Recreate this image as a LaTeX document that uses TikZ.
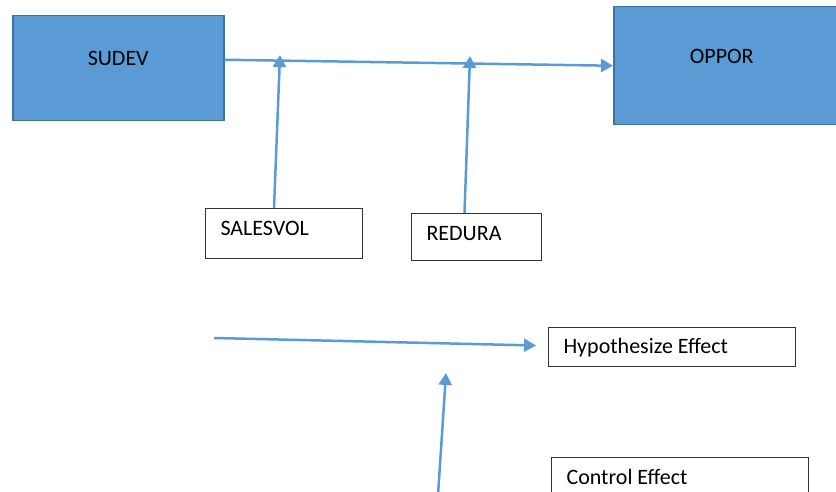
\documentclass[tikz,border=0pt]{standalone}
\usepackage{fontspec}
\setmainfont{Carlito}
\usetikzlibrary{arrows.meta}
\definecolor{boxblue}{HTML}{5B9BD5}
\definecolor{boxedge}{HTML}{41719C}
\begin{document}
\begin{tikzpicture}[x=1pt,y=-1pt,
    font=\fontsize{22}{26}\selectfont,
    bigbox/.style={draw=boxedge,fill=boxblue,line width=1.5pt,anchor=north west,inner sep=0pt},
    smallbox/.style={draw=black!80,line width=1pt,anchor=north west,inner sep=0pt},
    link/.style={draw=boxblue,line width=2.5pt,-{Triangle[length=12pt,width=13pt]}}]
    \useasboundingbox (0,0) rectangle (836,492);
    \node[bigbox,minimum width=211pt,minimum height=105pt,label={[yshift=10pt]center:SUDEV}] at (12,15) (sudev) {};
    \node[bigbox,minimum width=230pt,minimum height=118pt,label={[xshift=-7pt,yshift=9pt]center:OPPOR}] at (613,6) (oppor) {};
    \node[smallbox,minimum width=157pt,minimum height=50pt,label={[anchor=west,xshift=12pt,yshift=5pt]west:SALESVOL}] at (205,208) (salesvol) {};
    \node[smallbox,minimum width=130pt,minimum height=47pt,label={[anchor=west,xshift=12pt,yshift=3pt]west:REDURA}] at (411,213) (redura) {};
    \node[smallbox,minimum width=247pt,minimum height=39pt,label={[anchor=west,xshift=12pt,yshift=-1pt]west:Hypothesize Effect}] at (548,327) (hyp) {};
    \node[smallbox,minimum width=257pt,minimum height=50pt,label={[anchor=west,xshift=12pt,yshift=6pt]west:Control Effect}] at (551,457) (ctrl) {};
    \coordinate (salesjoin) at (280,55);
    \coordinate (redurajoin) at (470,56);
    \coordinate (hypstart) at (214,338);
    \coordinate (ctrlstart) at (438,495);
    \coordinate (ctrlend) at (446,373);
    \draw[link] ([yshift=8.5pt]sudev.east) -- (oppor.west);
    \draw[link] ([xshift=-10pt]salesvol.north) -- (salesjoin);
    \draw[link] ([xshift=-12pt]redura.north) -- (redurajoin);
    \draw[link] (hypstart) -- ([xshift=-12pt,yshift=1.5pt]hyp.west);
    \draw[link] (ctrlstart) -- (ctrlend);
\end{tikzpicture}
\end{document}
